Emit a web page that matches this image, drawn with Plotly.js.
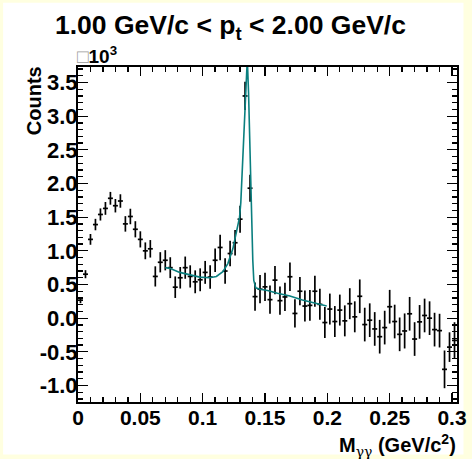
<!DOCTYPE html>
<html><head><meta charset="utf-8">
<script src="https://cdn.plot.ly/plotly-3.0.1.min.js"></script>
<style>
html,body{margin:0;padding:0;background:#ffffe0;width:472px;height:459px;overflow:hidden;}
#plot{position:absolute;left:0;top:0;width:472px;height:459px;}
</style></head><body><div id="plot"></div>
<script>
// Bin centres of the invariant-mass histogram (GeV/c^2)
const massBins = [0.002,0.006,0.010,0.014,0.018,0.022,0.026,0.030,0.034,0.038,
  0.042,0.046,0.050,0.054,0.058,0.062,0.066,0.070,0.074,0.078,
  0.082,0.086,0.090,0.094,0.098,0.102,0.106,0.110,0.114,0.118,
  0.122,0.126,0.130,0.134,0.138,0.142,0.146,0.150,0.154,0.158,
  0.162,0.166,0.170,0.174,0.178,0.182,0.186,0.190,0.194,0.198,
  0.202,0.206,0.210,0.214,0.218,0.222,0.226,0.230,0.234,0.238,
  0.242,0.246,0.250,0.254,0.258,0.262,0.266,0.270,0.274,0.278,
  0.282,0.286,0.290,0.294,0.298,0.302];
// Counts (x10^3)
const counts = [0.267,0.653,1.17,1.39,1.54,1.63,1.78,1.67,1.74,1.40,
  1.51,1.32,1.17,1.00,1.03,0.62,0.83,0.86,0.75,0.46,
  0.60,0.75,0.62,0.54,0.57,0.68,0.61,0.86,1.05,0.70,
  0.96,1.12,1.47,3.30,1.93,0.32,0.43,0.465,0.275,0.565,
  0.26,0.315,0.615,0.07,0.40,0.18,0.19,0.40,0.205,-0.065,
  0.135,-0.05,0.12,-0.04,0.215,0.02,0.325,-0.095,-0.03,-0.16,
  -0.275,-0.14,0.17,-0.05,-0.24,-0.19,0.065,-0.31,-0.055,0.04,
  0.00,-0.17,-0.185,-0.76,-0.43,-0.33];
// Statistical errors (x10^3)
const countErrors = [0.045,0.06,0.08,0.085,0.09,0.095,0.095,0.10,0.10,0.115,
  0.115,0.12,0.12,0.125,0.13,0.15,0.15,0.15,0.155,0.16,
  0.16,0.165,0.165,0.17,0.17,0.17,0.175,0.175,0.19,0.19,
  0.19,0.19,0.20,0.21,0.20,0.21,0.21,0.21,0.21,0.21,
  0.21,0.21,0.21,0.21,0.21,0.23,0.23,0.23,0.23,0.23,
  0.23,0.23,0.23,0.23,0.23,0.23,0.25,0.25,0.25,0.25,
  0.25,0.25,0.25,0.25,0.25,0.26,0.25,0.25,0.25,0.25,
  0.25,0.25,0.25,0.28,0.22,0.27];
const binHalfWidth = 0.002;
// Fit curve
const fitMass = [0.070,0.0736,0.0816,0.0896,0.0976,0.1056,0.111,0.1162,0.1202,0.1242,
  0.127,0.1296,0.1306,0.1322,0.1338,0.1350,0.1358,0.1368,0.1378,0.1386,
  0.1394,0.1402,0.141,0.1426,0.146,0.152,0.160,0.170,0.180,0.190,0.1995];
const fitCounts = [0.75,0.74,0.68,0.64,0.61,0.60,0.62,0.69,0.81,1.03,
  1.26,1.50,1.72,2.35,2.95,3.45,3.85,3.35,2.5,1.8,
  1.3,0.86,0.56,0.45,0.43,0.41,0.37,0.33,0.27,0.22,0.18];
// Tick labels
const xTickVals = [0,0.05,0.1,0.15,0.2,0.25,0.3];
const xTickText = ['0','0.05','0.1','0.15','0.2','0.25','0.3'];
const yTickVals = [-1,-0.5,0,0.5,1,1.5,2,2.5,3,3.5];
const yTickText = ['-1.0','-0.5','0.0','0.5','1.0','1.5','2.0','2.5','3.0','3.5'];

const FONT = 'Liberation Sans, Arial, Helvetica, sans-serif';

const data = [
  {type:'scatter', mode:'markers', x: massBins, y: counts,
   marker:{size:0.1, color:'#000'},
   error_y:{type:'data', array: countErrors, visible:true, color:'#000', thickness:1.7, width:0},
   error_x:{type:'constant', value: binHalfWidth, visible:true, color:'#000', thickness:1.7, width:0},
   showlegend:false, hoverinfo:'skip'},
  {type:'scatter', mode:'lines', x: fitMass, y: fitCounts,
   line:{color:'#0a7f7f', width:1.6}, showlegend:false, hoverinfo:'skip'}
];

const axisCommon = {
  showgrid:false, zeroline:false, showline:true, linewidth:2, linecolor:'#000',
  mirror:'allticks', ticks:'inside', tickcolor:'#000', tickwidth:1.3,
  tickmode:'array', ticklabeloverflow:'allow'
};

// plot area: x 78..457.5, y 67.3..402.5 (page px)
const PW = 379.5, PH = 335.2;
const layout = {
  width:472, height:459,
  margin:{l:78, r:14.5, t:67.3, b:56.5, pad:0},
  paper_bgcolor:'#ffffe0', plot_bgcolor:'#fff',
  title:{text:'1.00 GeV/c &lt; p<sub>t</sub> &lt; 2.00 GeV/c',
    font:{family:FONT, size:26.5, color:'#000', weight:'bold'},
    x:55/472, xref:'container', xanchor:'left', y:1-25/459, yref:'container', yanchor:'middle'},
  xaxis: Object.assign({}, axisCommon, {
    range:[0,0.304], tickvals:xTickVals, ticktext:xTickText, ticklen:9, ticklabelstandoff:-4,
    tickfont:{family: FONT, size: 21, color: '#000', weight: 'bold'},
    minor:{tickmode:'linear', tick0:0, dtick:0.01, ticks:'inside', ticklen:5, tickcolor:'#000', tickwidth:1.3, showgrid:false}
  }),
  yaxis: Object.assign({}, axisCommon, {
    range:[-1.245,3.73], tickvals:yTickVals, ticktext:yTickText, ticklen:10, ticklabelstandoff:-6,
    tickfont:{family: FONT, size: 22, color: '#000', weight: 'bold'},
    minor:{tickmode:'linear', tick0:0, dtick:0.1, ticks:'inside', ticklen:5, tickcolor:'#000', tickwidth:1.3, showgrid:false}
  }),
  shapes:[
    {type:'rect', xref:'paper', yref:'paper', layer:'below',
     x0:(3-78)/PW, x1:(464-78)/PW, y0:(402.5-455)/PH, y1:(402.5-3)/PH,
     fillcolor:'#fff', line:{width:0}}
  ],
  annotations:[
    {text:'Counts', xref:'paper', yref:'paper', x:0, y:0.898, xshift:-44,
     xanchor:'center', yanchor:'middle', textangle:-90, showarrow:false,
     font:{family:FONT, size:20, color:'#000', weight:'bold'}},
    {text:'M<sub><span style="font-family:DejaVu Serif;font-weight:normal">γγ</span></sub> (GeV/c<sup>2</sup>)', xref:'paper', yref:'paper', x:1, y:-0.13, xshift:1,
     xanchor:'right', yanchor:'middle', showarrow:false,
     font:{family:FONT, size:20, color:'#000', weight:'bold'}},
    {text:'<span style="color:#9a9a9a;font-weight:normal">□</span>10<sup>3</sup>', xref:'paper', yref:'paper', x:0, y:1.037, xshift:-3,
     xanchor:'left', yanchor:'middle', showarrow:false,
     font:{family:FONT, size:19, color:'#000', weight:'bold'}}
  ]
};

Plotly.newPlot('plot', data, layout, {displayModeBar:false, staticPlot:true});
</script></body></html>
